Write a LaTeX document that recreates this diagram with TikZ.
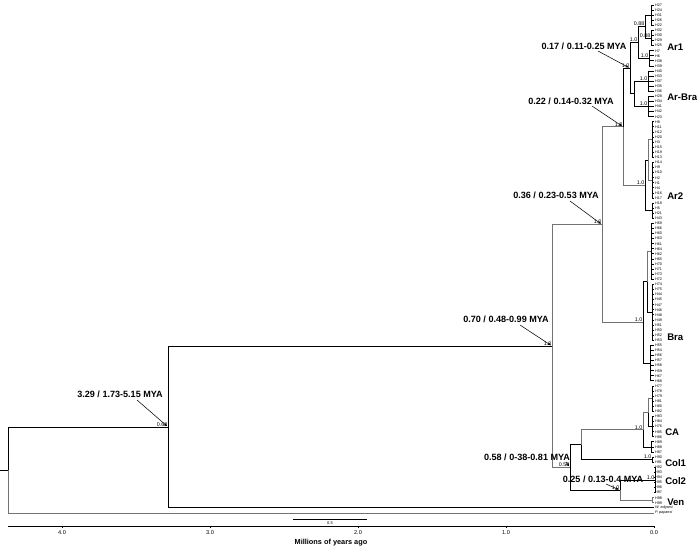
\documentclass[tikz,border=0pt]{standalone}
\usepackage{fontspec}
\setmainfont{Liberation Sans}
\usetikzlibrary{arrows.meta}

\begin{document}
\begin{tikzpicture}[x=0.75pt, y=-0.75pt]
\tikzstyle{br} = [draw=black, line width=0.65pt]
\tikzstyle{brg} = [draw=black!55, line width=0.75pt]
\tikzstyle{mya} = [font=\fontsize{6.8}{7}\selectfont\bfseries, inner sep=0pt]
\tikzstyle{clade} = [font=\fontsize{7.2}{8}\selectfont\bfseries, anchor=west, inner sep=0pt]
\tikzstyle{post} = [font=\fontsize{4}{4}\selectfont, anchor=south east, inner sep=0.3pt]
\tikzstyle{tiplab} = [font=\fontsize{2.8}{3}\selectfont, anchor=west, inner sep=0.6pt]
\tikzstyle{ticklab} = [font=\fontsize{4.2}{5}\selectfont, inner sep=0pt]
\tikzstyle{pointer} = [line width=0.4pt, -{Stealth[length=2.5pt, width=2pt]}, shorten >=1pt]

\useasboundingbox (0,0) rectangle (697,549);

\foreach \h [count=\i from 0] in {27,24,31,26,22,32,30,29,25,7,6,38,39,
  40,33,37,35,36,28,34,41,42,23,
  8,11,12,20,3,15,19,13,14,9,10,2,1,4,16,17,18,5,21,43,
  69,66,60,63,61,64,62,65,70,71,73,72,74,75,44,45,47,46,48,49,51,50,52,53,55,54,56,57,58,59,67,68,
  77,78,79,81,80,82,83,84,76,85,86,89,88,87,
  90,91,92,93,94,95,96,97,98,99}{
  \coordinate (t\i) at (654,{5+5.08*\i});
  \node[tiplab] (l\i) at (t\i) {H\h};
}
\coordinate (t99) at (654,507.92);
\coordinate (t100) at (654,513);
\node[tiplab] (l99) at (t99) {\itshape W. edgarsi};
\node[tiplab] (l100) at (t100) {\itshape P. papaesi};

\coordinate (g1) at (651,15.16);
\coordinate (g2) at (651,38.02);
\coordinate (g3) at (649,58.34);
\coordinate (g4) at (648,81.2);
\coordinate (g5) at (648,106.6);
\coordinate (g6a) at (652,139.62);
\coordinate (g6b) at (652,180.26);
\coordinate (g7) at (652,210.74);
\coordinate (g8a) at (651,251.38);
\coordinate (g8b) at (652,312.34);
\coordinate (g9) at (650,363.14);
\coordinate (g10a) at (652,398.7);
\coordinate (g10b) at (652,426.64);
\coordinate (g11) at (651,446.96);
\coordinate (col1) at (652,459.66);
\coordinate (col2) at (655,479.98);
\coordinate (ven) at (652,500.3);

\coordinate (pA) at (645,26.59);
\coordinate (ar1) at (638,42.47);
\coordinate (arbra) at (634,93.9);
\coordinate (n017) at (630,68.19);
\coordinate (g6) at (648,159.94);
\coordinate (ar2) at (645,185.34);
\coordinate (n022) at (623,126.77);
\coordinate (g8) at (647,281.86);
\coordinate (bra) at (643,322.5);
\coordinate (n036) at (602,224.64);
\coordinate (g10) at (648,412.67);
\coordinate (ca) at (643,429.82);
\coordinate (ncc) at (581,444.74);
\coordinate (n025) at (620,490.14);
\coordinate (n058) at (570,467.44);
\coordinate (n070) at (552,346.04);
\coordinate (n329) at (168,426.98);
\coordinate (root) at (8,469.99);
\coordinate (stub) at (0,469.99);

\foreach \g/\a/\b in {g1/0/4, g2/5/8, g3/9/12, g4/13/17, g5/18/22, g6a/23/30, g6b/31/38,
  g7/39/42, g8a/43/54, g8b/55/66, g9/67/74, g10a/75/80, g10b/81/85, g11/86/88,
  col1/89/90, col2/91/96}
  \foreach \i in {\a,...,\b} \draw[br] (\g) |- (t\i);
\foreach \i in {97,98} \draw[brg] (ven) |- (t\i);

\draw[br] (pA) |- (g1);
\draw[br] (pA) |- (g2);
\draw[br] (ar1) |- (pA);
\draw[br] (ar1) |- (g3);
\draw[br] (arbra) |- (g4);
\draw[br] (arbra) |- (g5);
\draw[br] (n017) |- (ar1);
\draw[br] (n017) |- (arbra);
\draw[brg] (g6) |- (g6a);
\draw[brg] (g6) |- (g6b);
\draw[br] (ar2) |- (g6);
\draw[br] (ar2) |- (g7);
\draw[br] (n022) |- (n017);
\draw[brg] (n022) |- (ar2);
\draw[brg] (g8) |- (g8a);
\draw[br] (g8) |- (g8b);
\draw[br] (bra) |- (g8);
\draw[br] (bra) |- (g9);
\draw[brg] (n036) |- (n022);
\draw[brg] (n036) |- (bra);
\draw[brg] (g10) |- (g10a);
\draw[br] (g10) |- (g10b);
\draw[brg] (ca) |- (g10);
\draw[br] (ca) |- (g11);
\draw[brg] (ncc) |- (ca);
\draw[br] (ncc) |- (col1);
\draw[br] (n025) |- (col2);
\draw[brg] (n025) |- (ven);
\draw[br] (n058) |- (ncc);
\draw[br] (n058) |- (n025);
\draw[brg] (n070) |- (n036);
\draw[brg] (n070) |- (n058);
\draw[br] (n329) |- (n070);
\draw[br] (n329) |- (t99);
\draw[br] (root) |- (n329);
\draw[brg] (root) |- (t100);
\draw[br] (stub) -- (root);

\node[post] (p329) at (n329) {0.68};
\node[post] (p070) at (n070) {1.0};
\node[post] (p036) at (n036) {1.0};
\node[post] (p022) at (n022) {1.0};
\node[post] (p017) at (n017) {1.0};
\node[post] (par1) at (ar1) {1.0};
\node[post] (ppA) at (pA) {0.88};
\node[post] (pg2) at (g2) {0.88};
\node[post] (pg3) at (g3) {1.0};
\node[post] (pg4) at (g4) {1.0};
\node[post] (pg5) at (g5) {1.0};
\node[post] (par2) at (ar2) {1.0};
\node[post] (pbra) at (bra) {1.0};
\node[post] (pca) at (ca) {1.0};
\node[post] (pcol1) at (col1) {1.0};
\node[post] (p058) at (n058) {0.58};
\node[post] (p025) at (n025) {1.0};
\node[post] (pcol2) at (col2) {1.0};

\node[mya] (m017) at (584,46) {0.17 / 0.11-0.25 MYA};
\node[mya] (m022) at (571,101) {0.22 / 0.14-0.32 MYA};
\node[mya] (m036) at (556,195) {0.36 / 0.23-0.53 MYA};
\node[mya] (m070) at (506,319) {0.70 / 0.48-0.99 MYA};
\node[mya] (m329) at (120,394) {3.29 / 1.73-5.15 MYA};
\node[mya] (m058) at (527,457) {0.58 / 0-38-0.81 MYA};
\node[mya] (m025) at (603,479) {0.25 / 0.13-0.4 MYA};

\coordinate (a017) at (598,51);
\coordinate (a022) at (592,106);
\coordinate (a036) at (570,201);
\coordinate (a070) at (520,325);
\coordinate (a329) at (137,400);
\coordinate (a058) at (566,462);
\coordinate (a025) at (606,484);
\draw[pointer] (a017) -- (n017);
\draw[pointer] (a022) -- (n022);
\draw[pointer] (a036) -- (n036);
\draw[pointer] (a070) -- (n070);
\draw[pointer] (a329) -- (n329);
\draw[pointer] (a058) -- (n058);
\draw[pointer] (a025) -- (n025);

\node[clade] (cAr1) at (667,47) {Ar1};
\node[clade] (cArBra) at (667,97) {Ar-Bra};
\node[clade] (cAr2) at (667,196) {Ar2};
\node[clade] (cBra) at (667,337) {Bra};
\node[clade] (cCA) at (665,432) {CA};
\node[clade] (cCol1) at (665,463) {Col1};
\node[clade] (cCol2) at (665,481) {Col2};
\node[clade] (cVen) at (667,502) {Ven};

\coordinate (sb1) at (293,519);
\coordinate (sb2) at (367,519);
\draw[br] (sb1) -- (sb2);
\node[ticklab, font=\fontsize{3}{3}\selectfont] (sbl) at (330,523) {0.5};

\coordinate (ax1) at (8,526);
\coordinate (ax2) at (654,526);
\draw[br, line width=0.5pt] (ax1) -- (ax2);
\foreach \t in {0,...,4}{
  \draw[br, line width=0.4pt] ({654-148*\t},526) -- ({654-148*\t},528);
  \node[ticklab] (tk\t) at ({654-148*\t},533) {\t.0};
}
\node[font=\fontsize{5.5}{6}\selectfont\bfseries, inner sep=0pt] (axt) at (331,543) {Millions of years ago};
\end{tikzpicture}
\end{document}
